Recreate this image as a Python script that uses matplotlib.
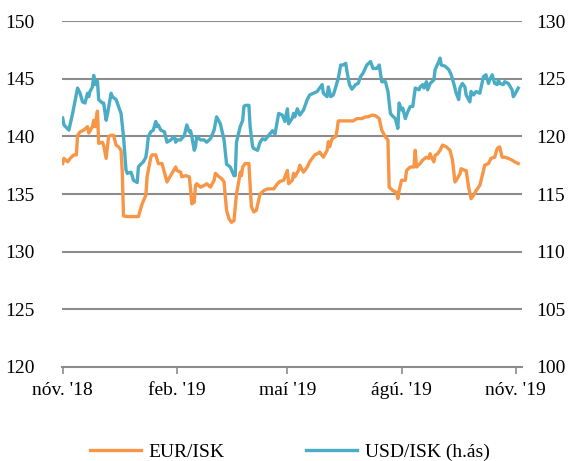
import numpy as np
import matplotlib
matplotlib.use('Agg')
import matplotlib.pyplot as plt
import matplotlib.dates as mdates

plt.rcParams['font.family'] = ['Liberation Serif', 'DejaVu Serif']

# EUR/ISK (left axis): days after 1 Nov 2018, value
eur_days = [0, 1, 4, 6, 9, 11, 12, 14, 17, 20, 21, 24, 25, 26, 28, 29, 32, 33, 35, 37, 39,
            41, 43, 45, 47, 48, 49, 52, 61, 64, 67, 68, 71, 72, 75, 77, 80, 84, 87, 91, 92,
            95, 96, 99, 102, 103, 104, 106, 107, 108, 111, 114, 116, 119, 122, 123, 126, 128,
            130, 132, 134, 136, 138, 140, 142, 143, 144, 145, 147, 150, 152, 154, 156, 159,
            162, 165, 170, 173, 175, 178, 181, 182, 185, 186, 187, 190, 191, 194, 197, 199,
            203, 206, 207, 210, 213, 214, 215, 217, 220, 221, 222, 226, 234, 237, 241, 244,
            246, 249, 252, 255, 257, 260, 262, 263, 266, 269, 270, 271, 273, 276, 277, 280,
            283, 284, 285, 288, 290, 293, 295, 296, 297, 299, 300, 302, 304, 306, 309, 312,
            314, 316, 317, 320, 321, 324, 325, 327, 329, 331, 333, 336, 338, 340, 343, 345,
            348, 350, 352, 354, 356, 359, 362, 364, 367]
eur_vals = [137.65, 138.1, 137.8, 138.1, 138.4, 138.4, 140.1, 140.4, 140.55, 140.85, 140.3,
            140.85, 141.4, 140.85, 142.2, 139.4, 139.5, 139.25, 138.1, 140.0, 140.1, 140.1,
            139.25, 139.1, 138.8, 136.9, 133.1, 133.05, 133.05, 134.15, 134.9, 136.5, 138.2,
            138.4, 138.4, 137.65, 137.65, 136.05, 136.6, 137.35, 137.05, 136.9, 136.5, 136.6,
            136.5, 135.45, 134.15, 134.3, 135.75, 135.9, 135.6, 135.75, 135.9, 135.6, 136.2,
            136.8, 136.5, 136.35, 136.05, 133.6, 132.85, 132.55, 132.7, 135.0, 136.2, 136.9,
            136.6, 137.35, 137.65, 137.65, 133.9, 133.45, 133.6, 135.0, 135.3, 135.45,
            135.45, 135.9, 136.1, 136.2, 137.05, 135.9, 136.2, 136.8, 136.5, 137.05, 137.5,
            136.9, 137.35, 137.8, 138.4, 138.55, 138.65, 138.2, 138.8, 139.55, 139.1, 139.8,
            140.0, 140.55, 141.35, 141.35, 141.35, 141.55, 141.55, 141.7, 141.7, 141.85,
            141.8, 141.55, 140.55, 139.95, 139.7, 135.6, 135.3, 135.15, 134.6, 135.3, 136.2,
            136.2, 137.05, 137.35, 137.35, 138.8, 137.35, 137.65, 137.95, 138.2, 138.1, 138.5,
            138.2, 137.8, 138.35, 138.5, 138.8, 139.25, 139.1, 138.8, 137.95, 136.05, 136.2,
            136.75, 137.2, 137.05, 137.05, 135.6, 134.6, 134.9, 135.3, 135.75, 136.6, 137.5,
            137.65, 138.1, 138.2, 138.95, 139.1, 138.2, 138.2, 138.1, 137.95, 137.8, 137.65]

# USD/ISK (right axis)
usd_days = [0, 1, 5, 8, 12, 14, 16, 18, 20, 21, 22, 24, 25, 26, 28, 29, 32, 33, 35, 36, 39,
            40, 43, 45, 47, 49, 51, 52, 55, 56, 57, 60, 61, 63, 65, 67, 68, 69, 71, 73, 75,
            76, 77, 79, 82, 84, 87, 90, 91, 92, 95, 98, 100, 102, 103, 104, 106, 107, 108,
            111, 114, 116, 119, 122, 124, 126, 127, 130, 132, 135, 138, 139, 140, 143, 145,
            146, 147, 150, 151, 153, 154, 157, 159, 161, 163, 166, 169, 171, 174, 177, 179,
            181, 182, 185, 186, 187, 189, 191, 194, 197, 199, 202, 205, 207, 209, 210, 213,
            214, 216, 218, 220, 222, 224, 226, 228, 229, 231, 233, 236, 238, 240, 242, 245,
            248, 249, 250, 253, 255, 257, 260, 262, 264, 265, 268, 270, 271, 273, 274, 276,
            278, 280, 282, 284, 287, 288, 290, 291, 293, 294, 296, 299, 300, 303, 304, 305,
            308, 311, 313, 315, 317, 319, 320, 322, 324, 325, 328, 329, 331, 333, 336, 339,
            341, 343, 344, 346, 348, 350, 351, 352, 355, 356, 359, 362, 363, 364, 367]
usd_vals = [121.6, 121.0, 120.55, 122.0, 124.2, 123.75, 123.0, 122.9, 123.75, 123.45, 123.9,
            124.3, 125.3, 124.5, 124.8, 123.2, 122.9, 122.9, 121.4, 121.9, 123.75, 123.45,
            123.2, 122.6, 122.0, 120.0, 117.1, 116.8, 116.9, 116.6, 116.2, 116.0, 117.35,
            117.6, 117.8, 118.2, 118.95, 120.0, 120.4, 120.55, 121.3, 120.85, 121.0, 120.55,
            120.4, 119.5, 119.7, 120.0, 119.5, 119.7, 119.7, 120.1, 121.0, 120.4, 120.5,
            120.0, 118.8, 119.1, 120.0, 119.7, 119.7, 119.5, 119.8, 120.55, 121.7, 121.3,
            121.1, 119.7, 117.6, 117.35, 116.6, 116.6, 119.5, 120.85, 121.4, 122.6, 122.7,
            122.7, 120.85, 119.1, 118.95, 118.8, 119.5, 119.8, 119.7, 120.1, 120.5, 120.2,
            122.0, 121.85, 121.3, 122.4, 121.1, 121.6, 122.0, 121.7, 122.4, 121.85, 122.3,
            123.2, 123.6, 123.75, 123.9, 124.2, 124.5, 123.75, 123.45, 124.3, 123.45, 123.6,
            124.3, 125.05, 126.2, 126.2, 126.35, 125.65, 124.5, 124.1, 124.5, 124.6, 125.2,
            125.5, 126.2, 126.5, 126.2, 125.9, 125.9, 126.2, 124.75, 124.75, 123.9, 122.0,
            121.85, 121.55, 120.7, 122.9, 122.3, 122.45, 121.55, 122.15, 122.6, 122.6, 124.2,
            124.05, 124.3, 124.5, 124.2, 124.75, 124.05, 124.6, 124.9, 125.8, 126.5, 126.8,
            126.2, 126.1, 125.8, 125.35, 124.6, 123.75, 123.2, 124.2, 124.6, 124.3, 123.6,
            123.0, 123.9, 123.6, 123.9, 123.75, 125.2, 125.35, 124.6, 124.9, 125.35, 124.6,
            124.5, 124.9, 124.6, 124.5, 124.75, 124.6, 124.05, 123.45, 123.6, 124.2]

tick_dates = ['2018-11-01', '2019-02-01', '2019-05-01', '2019-08-01', '2019-11-01']
tick_labels = ["nóv. '18", "feb. '19", "maí '19", "ágú. '19", "nóv. '19"]

start = np.datetime64('2018-11-01')
eur_t = start + np.array(eur_days).astype('timedelta64[D]')
usd_t = start + np.array(usd_days).astype('timedelta64[D]')

orange = '#F79646'
blue = '#4BACC6'
grid_c = '#8C8C8C'
fs = 14

fig = plt.figure(figsize=(5.8, 4.61), dpi=100)
ax = fig.add_axes([0.107, 0.204, 0.793, 0.750])
ax2 = ax.twinx()

l1, = ax.plot(eur_t, eur_vals, color=orange, lw=2.4, label='EUR/ISK', zorder=3)
l2, = ax2.plot(usd_t, usd_vals, color=blue, lw=2.4, label='USD/ISK (h.ás)', zorder=3)

ax.set_ylim(120, 150)
ax2.set_ylim(100, 130)
ax.set_yticks(np.arange(120, 151, 5))
ax2.set_yticks(np.arange(100, 131, 5))
ax.set_xlim(start - np.timedelta64(12, 'h'), start + np.timedelta64(370, 'D'))
ax.set_xticks([np.datetime64(d) for d in tick_dates])
ax.set_xticklabels(tick_labels)

for y in np.arange(125, 151, 5):
    ax.axhline(y, color=grid_c, lw=1.5, zorder=1)

for a in (ax, ax2):
    for s in a.spines.values():
        s.set_visible(False)
ax.spines['bottom'].set_visible(True)
ax.spines['bottom'].set_color(grid_c)
ax.spines['bottom'].set_linewidth(1.5)

ax.tick_params(axis='y', length=0, pad=20, labelsize=fs)
ax2.tick_params(axis='y', length=0, pad=10, labelsize=fs)
ax.tick_params(axis='x', length=5, width=1.2, color=grid_c, pad=6, labelsize=fs)

fig.legend(handles=[l1, l2], loc='center', bbox_to_anchor=(0.5, 0.02), ncol=2,
           frameon=False, fontsize=fs, handlelength=2.6, handletextpad=0.4,
           columnspacing=4.2)

fig.savefig('out.png', dpi=100)
